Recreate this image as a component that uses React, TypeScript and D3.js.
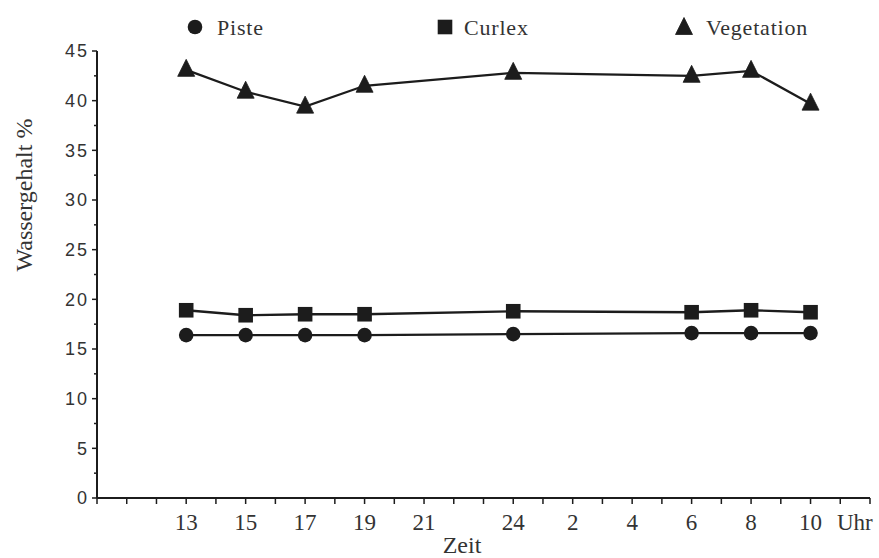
import React from "react";
import * as d3 from "d3";

const times = [13, 15, 17, 19, 24, 30, 32, 34];
const piste = [16.4, 16.4, 16.4, 16.4, 16.5, 16.6, 16.6, 16.6];
const curlex = [18.9, 18.4, 18.5, 18.5, 18.8, 18.7, 18.9, 18.7];
const vegetation = [43.1, 40.9, 39.4, 41.5, 42.8, 42.5, 43.0, 39.7];
const xTickHours = [13, 15, 17, 19, 21, 24, 26, 28, 30, 32, 34];
const xTickLabels = ["13", "15", "17", "19", "21", "24", "2", "4", "6", "8", "10"];
const yTickValues = [0, 5, 10, 15, 20, 25, 30, 35, 40, 45];
const legendLabels = ["Piste", "Curlex", "Vegetation"];

const W = 879;
const H = 558;
const ink = "#1c1c1c";
const serif = "'Liberation Serif', 'DejaVu Serif', serif";
const sans = "'Liberation Sans', Arial, sans-serif";

function Marker({ kind, x, y }: { kind: string; x: number; y: number }) {
  if (kind === "circle") return <circle cx={x} cy={y} r={7.3} fill={ink} />;
  if (kind === "square") return <rect x={x - 7.3} y={y - 7.3} width={14.6} height={14.6} fill={ink} />;
  const p = d3.path();
  p.moveTo(x, y - 10.5);
  p.lineTo(x + 8.5, y + 6.5);
  p.lineTo(x - 8.5, y + 6.5);
  p.closePath();
  return <path d={p.toString()} fill={ink} stroke={ink} strokeWidth={0.8} strokeLinejoin="round" />;
}

export default function App() {
  const x = d3.scaleLinear().domain([10, 36]).range([97, 870]);
  const y = d3.scaleLinear().domain([0, 45]).range([498, 51]);
  const line = d3
    .line<[number, number]>()
    .x((d) => x(d[0]))
    .y((d) => y(d[1]));

  const series = [
    { name: legendLabels[0], values: piste, kind: "circle" },
    { name: legendLabels[1], values: curlex, kind: "square" },
    { name: legendLabels[2], values: vegetation, kind: "triangle" },
  ];

  const hourTicks = d3.range(10, 37);
  const yMinor = d3.range(0, 45.01, 2.5);
  const legendPos = [
    { mx: 195, tx: 217 },
    { mx: 445, tx: 464 },
    { mx: 684, tx: 706 },
  ];

  return (
    <svg
      width={W}
      height={H}
      style={{ position: "absolute", left: 0, top: 0, background: "#fff" }}
    >
      <rect width={W} height={H} fill="#fff" />
      {/* Y axis */}
      <line x1={x(10)} x2={x(10)} y1={y(45)} y2={y(0)} stroke={ink} strokeWidth={2} />
      {yMinor.map((v) => (
        <line
          key={"ym" + v}
          x1={x(10) - (v % 5 === 0 ? 5 : 3)}
          x2={x(10)}
          y1={y(v)}
          y2={y(v)}
          stroke={ink}
          strokeWidth={1.5}
        />
      ))}
      {yTickValues.map((v) => (
        <text
          key={"yl" + v}
          x={89}
          y={y(v)}
          dy="0.36em"
          textAnchor="end"
          fontFamily={sans}
          fontSize={18}
          letterSpacing={2}
          fill="#333"
        >
          {v}
        </text>
      ))}
      <text
        transform={`translate(32, 195) rotate(-90)`}
        textAnchor="middle"
        fontFamily={serif}
        fontSize={24}
        fill="#333"
      >
        Wassergehalt %
      </text>

      {/* X axis */}
      <line x1={x(10)} x2={x(36)} y1={y(0)} y2={y(0)} stroke={ink} strokeWidth={2} />
      {hourTicks.map((h) => (
        <line
          key={"xt" + h}
          x1={x(h)}
          x2={x(h)}
          y1={y(0)}
          y2={y(0) + 6}
          stroke={ink}
          strokeWidth={1.5}
        />
      ))}
      {xTickHours.map((h, i) => (
        <text
          key={"xl" + h}
          x={x(h)}
          y={530}
          textAnchor="middle"
          fontFamily={serif}
          fontSize={23}
          fill="#333"
        >
          {xTickLabels[i]}
        </text>
      ))}
      <text x={837} y={530} fontFamily={serif} fontSize={23} fill="#333">
        Uhr
      </text>
      <text x={462} y={553} textAnchor="middle" fontFamily={serif} fontSize={24} fill="#333">
        Zeit
      </text>

      {/* Series */}
      {series.map((s) => {
        const pts: [number, number][] = times.map((t, i) => [t, s.values[i]]);
        return (
          <g key={s.name}>
            <path d={line(pts) || ""} fill="none" stroke={ink} strokeWidth={2.3} />
            {pts.map((p, i) => (
              <Marker key={i} kind={s.kind} x={x(p[0])} y={y(p[1])} />
            ))}
          </g>
        );
      })}

      {/* Legend */}
      {series.map((s, i) => (
        <g key={"lg" + s.name}>
          <Marker kind={s.kind} x={legendPos[i].mx} y={s.kind === "triangle" ? 28 : 27} />
          <text
            x={legendPos[i].tx}
            y={35}
            fontFamily={serif}
            fontSize={22}
            letterSpacing={0.8}
            fill="#333"
          >
            {s.name}
          </text>
        </g>
      ))}
    </svg>
  );
}
